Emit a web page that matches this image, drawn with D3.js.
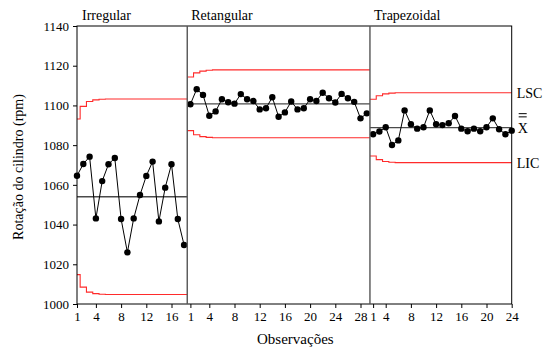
<!DOCTYPE html>
<html><head><meta charset="utf-8">
<script src="https://cdn.jsdelivr.net/npm/d3@7"></script>
<style>
html,body{margin:0;padding:0;background:#fff;}
svg, svg text{font-family:"Liberation Serif","Times New Roman",Times,"DejaVu Serif",serif !important;}
</style></head>
<body>
<svg id="chart" width="543" height="349"></svg>
<script>
// ---- data ----
const panelNames = ["Irregular", "Retangular", "Trapezoidal"];
const irregularValues = [1064.6,1070.5,1074.2,1043.1,1061.9,1070.4,1073.5,1042.8,1026.0,1043.1,1054.9,1064.5,1071.7,1041.6,1058.6,1070.4,1042.8,1029.7];
const retangularValues = [1100.6,1108.2,1105.3,1094.8,1097.0,1103.1,1101.6,1100.9,1105.7,1103.1,1102.2,1098.0,1098.6,1104.1,1094.3,1096.5,1102.0,1098.0,1098.6,1103.1,1102.2,1106.4,1103.6,1101.5,1105.8,1103.6,1101.8,1093.5,1096.0];
const trapezoidalValues = [1085.5,1086.9,1089.0,1080.1,1082.4,1097.5,1090.5,1088.3,1089.0,1097.5,1090.5,1090.1,1091.0,1094.7,1088.3,1087.0,1088.3,1087.0,1089.0,1093.5,1088.0,1085.5,1087.3];
const centerValues = [1054.0, 1100.8, 1088.8];
const irregularUCL = [1093.2,1099.5,1102.0,1102.8,1103.1,1103.2];
const irregularLCL = [1014.8,1008.5,1006.0,1005.2,1004.9,1004.8];
const retangularUCL = [1114.3,1116.4,1117.3,1117.7,1117.9];
const retangularLCL = [1087.3,1085.2,1084.3,1083.9,1083.7];
const trapezoidalUCL = [1103.1,1104.9,1105.8,1106.2,1106.4];
const trapezoidalLCL = [1074.5,1072.7,1071.8,1071.4,1071.2];
// tick positions (observation number within panel) and their labels
const irregularTickPos = [1,4,8,12,16];
const irregularTickLabels = ["1","4","8","12","16"];
const retangularTickPos = [1,4,8,12,16,20,24,28];
const retangularTickLabels = ["1","4","8","12","16","20","24","28"];
const trapezoidalTickPos = [1,3,7,11,15,19,23];
const trapezoidalTickLabels = ["1","4","8","12","16","20","24"];
const yTicks = [1000,1020,1040,1060,1080,1100,1120,1140];
const yTitle = "Rotação do cilindro (rpm)";
const xTitle = "Observações";
const limitLabels = ["LSC", "X", "LIC"];

const panels = [
  {name: panelNames[0], values: irregularValues, center: centerValues[0], ucl: irregularUCL, lcl: irregularLCL, tickPos: irregularTickPos, tickLabels: irregularTickLabels},
  {name: panelNames[1], values: retangularValues, center: centerValues[1], ucl: retangularUCL, lcl: retangularLCL, tickPos: retangularTickPos, tickLabels: retangularTickLabels},
  {name: panelNames[2], values: trapezoidalValues, center: centerValues[2], ucl: trapezoidalUCL, lcl: trapezoidalLCL, tickPos: trapezoidalTickPos, tickLabels: trapezoidalTickLabels}
];

(function () {
// ---- layout ----
const svg = d3.select("#chart");
const pL = 77, pR = 511.7, pT = 26, pB = 304;
let offset = 0;
panels.forEach(p => { p.offset = offset; offset += p.values.length; });
const total = offset; // last global index
const x = d3.scaleLinear().domain([1, total]).range([pL, pR]);
const y = d3.scaleLinear().domain([1000, 1140]).range([pB, pT]);
panels.forEach((p, i) => {
  p.g0 = i === 0 ? 1 : p.offset + 0.5;
  p.g1 = i === panels.length - 1 ? total : p.offset + p.values.length + 0.5;
});

const font = 13;
const g = svg.append("g");

// limits and center lines
const stepLine = d3.line().x(d => x(d[0])).y(d => y(d[1])).curve(d3.curveStepAfter);
panels.forEach(p => {
  const n = p.values.length;
  [p.ucl, p.lcl].forEach(arr => {
    const v = i => arr[Math.min(i, arr.length - 1)];
    const pts = [[p.g0, v(0)]];
    for (let i = 1; i < n; i++) pts.push([p.offset + i + 0.5, v(i)]);
    pts.push([p.g1, v(n - 1)]);
    g.append("path").attr("d", stepLine(pts)).attr("fill", "none")
      .attr("stroke", "#ff2b2b").attr("stroke-width", 1.1);
  });
  g.append("line").attr("x1", x(p.g0)).attr("x2", x(p.g1))
    .attr("y1", y(p.center)).attr("y2", y(p.center))
    .attr("stroke", "#4a4a4a").attr("stroke-width", 1.3);
});

// data lines and points
const dataLine = d3.line().x(d => x(d[0])).y(d => y(d[1]));
panels.forEach(p => {
  const pts = p.values.map((v, i) => [p.offset + i + 1, v]);
  g.append("path").attr("d", dataLine(pts)).attr("fill", "none")
    .attr("stroke", "#000").attr("stroke-width", 1);
  g.selectAll(null).data(pts).enter().append("circle")
    .attr("cx", d => x(d[0])).attr("cy", d => y(d[1])).attr("r", 3.2).attr("fill", "#000");
});

// frame and dividers
g.append("rect").attr("x", pL).attr("y", pT).attr("width", pR - pL).attr("height", pB - pT)
  .attr("fill", "none").attr("stroke", "#000").attr("stroke-width", 1);
panels.slice(1).forEach(p => {
  g.append("line").attr("x1", x(p.g0)).attr("x2", x(p.g0)).attr("y1", pT).attr("y2", pB)
    .attr("stroke", "#555").attr("stroke-width", 1.4);
});

// y axis
const yAxis = d3.axisLeft(y).tickValues(yTicks).tickSize(4).tickPadding(4).tickFormat(d3.format("d"));
const ya = svg.append("g").attr("transform", `translate(${pL},0)`).call(yAxis);
ya.select(".domain").remove();
ya.selectAll("line").attr("stroke", "#000");
ya.selectAll("text").attr("font-size", font).attr("fill", "#000");

// x axis ticks
const xTickVals = [], xTickText = new Map();
panels.forEach(p => p.tickPos.forEach((t, i) => { const gv = p.offset + t; xTickVals.push(gv); xTickText.set(gv, p.tickLabels[i]); }));
const xAxis = d3.axisBottom(x).tickValues(xTickVals).tickSize(4).tickPadding(4).tickFormat(d => xTickText.get(d));
const xa = svg.append("g").attr("transform", `translate(0,${pB})`).call(xAxis);
xa.select(".domain").remove();
xa.selectAll("line").attr("stroke", "#000");
xa.selectAll("text").attr("font-size", font).attr("fill", "#000");

// panel titles
panels.forEach((p, i) => {
  svg.append("text").attr("x", x(p.g0) + (i === 0 ? 5 : 4)).attr("y", 20)
    .attr("font-size", 14).attr("fill", "#000").text(p.name);
});

// axis titles
svg.append("text").attr("transform", `translate(23,${(pT + pB) / 2 + 2}) rotate(-90)`)
  .attr("text-anchor", "middle").attr("font-size", 14).attr("fill", "#000").text(yTitle);
svg.append("text").attr("x", (pL + pR) / 2 + 1).attr("y", 344)
  .attr("text-anchor", "middle").attr("font-size", 15).attr("fill", "#000").text(xTitle);

// right-side limit labels
const last = panels[panels.length - 1];
const lx = pR + 5;
svg.append("text").attr("x", lx).attr("y", y(last.ucl[last.ucl.length - 1]) + 5)
  .attr("font-size", 14).attr("fill", "#000").text(limitLabels[0]);
svg.append("text").attr("x", lx + 1).attr("y", y(last.center) + 5)
  .attr("font-size", 14).attr("fill", "#000").text(limitLabels[1]);
[0, 3.2].forEach(dy => svg.append("line").attr("x1", lx + 2).attr("x2", lx + 10)
  .attr("y1", y(last.center) - 14 + dy).attr("y2", y(last.center) - 14 + dy)
  .attr("stroke", "#000").attr("stroke-width", 1));
svg.append("text").attr("x", lx).attr("y", y(last.lcl[last.lcl.length - 1]) + 5)
  .attr("font-size", 14).attr("fill", "#000").text(limitLabels[2]);
})();
</script>
</body></html>
